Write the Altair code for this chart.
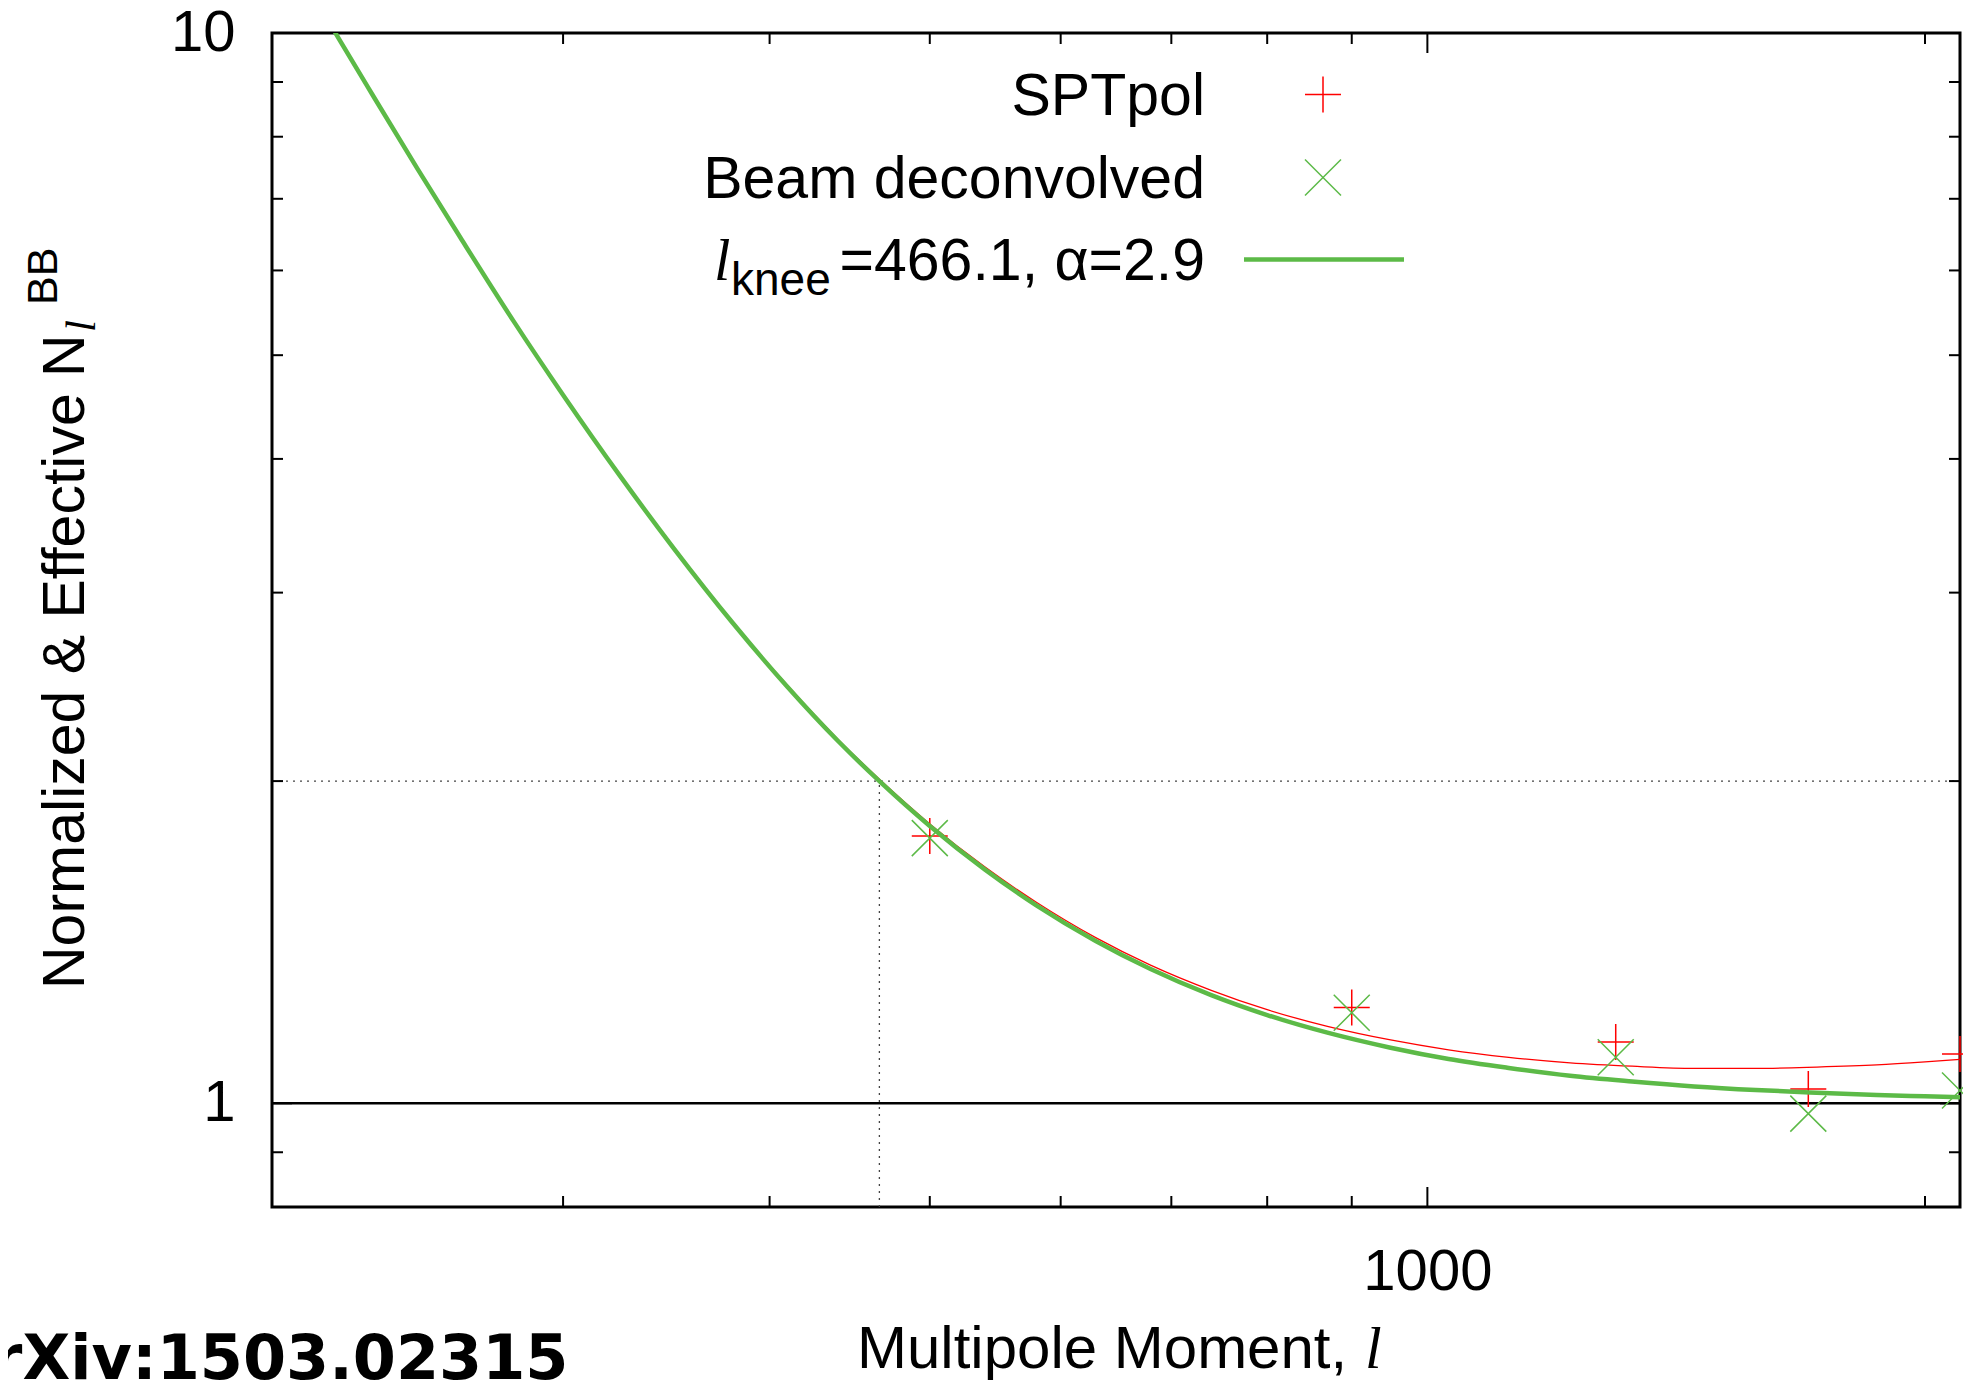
import altair as alt
import pandas as pd

# ---------------- data ----------------
curve_l = [200, 210, 220, 230, 245, 260, 280, 300, 325, 350, 380, 410, 440, 466.1,
           500, 540, 580, 630, 680, 740, 800, 870, 950, 1030, 1120, 1220, 1330,
           1450, 1580, 1720, 1870, 2000, 2100]
fit_deconv = [12.63, 11.10, 9.82, 8.76, 7.46, 6.44, 5.38, 4.59, 3.85, 3.30, 2.81, 2.45,
              2.18, 2.00, 1.816, 1.653, 1.531, 1.418, 1.335, 1.262, 1.209, 1.164, 1.127,
              1.100, 1.079, 1.061, 1.048, 1.037, 1.029, 1.023, 1.018, 1.015, 1.013]
fit_sptpol = [12.64, 11.11, 9.83, 8.77, 7.47, 6.45, 5.39, 4.60, 3.86, 3.31, 2.818, 2.458,
              2.188, 2.008, 1.824, 1.662, 1.541, 1.428, 1.346, 1.275, 1.223, 1.180, 1.146,
              1.122, 1.104, 1.091, 1.083, 1.078, 1.078, 1.081, 1.086, 1.093, 1.099]

bin_l = [500, 900, 1300, 1700, 2100]
sptpol_pts = [1.777, 1.229, 1.141, 1.031, 1.112]
deconv_pts = [1.769, 1.215, 1.104, 0.978, 1.028]

x_minor_ticks = [300, 400, 500, 600, 700, 800, 900, 2000]
x_major_ticks = [1000]
y_minor_ticks = [0.9, 2, 3, 4, 5, 6, 7, 8, 9]
y_major_ticks = [1, 10]
x_labels = [1000]
y_labels = [1, 10]

x_domain = [200, 2100]
y_domain = [0.8, 10]
knee_l = [466.1]
knee_n = [2.0]
unity = [1.0]

legend_labels = ["SPTpol", "Beam deconvolved", "=466.1, α=2.9"]
x_title = "Multipole Moment,"
y_title = "Normalized & Effective N"
watermark = "arXiv:1503.02315"

# ---------------- styling ----------------
W, H = 1688, 1174
GREEN = "#5cba47"
RED = "#ff0000"
SANS = "Liberation Sans"
SERIF = "Liberation Serif"
PLUS = "M-1,0L1,0M0,-1L0,1"
CROSS = "M-1,-1L1,1M-1,1L1,-1"

xs = alt.Scale(type="log", domain=x_domain, nice=False, zero=False)
ys = alt.Scale(type="log", domain=y_domain, nice=False, zero=False)

curves = pd.DataFrame({"l": curve_l, "deconv": fit_deconv, "spt": fit_sptpol})
pts = pd.DataFrame({"l": bin_l, "spt": sptpol_pts, "deconv": deconv_pts})

x_axis = alt.Axis(values=x_labels, format="d", title=None, ticks=False, tickSize=0,
                  domain=False, grid=False, labelFontSize=58, labelFont=SANS,
                  labelColor="black", labelPadding=36, labelFlush=False,
                  labelOverlap=False)
y_axis = alt.Axis(values=y_labels, format="d", title=None, ticks=False, tickSize=0,
                  domain=False, grid=False, labelFontSize=58, labelFont=SANS,
                  labelColor="black", labelPadding=37, labelFlush=False,
                  labelOverlap=False)


def X(field):
    return alt.X(field, scale=xs, axis=x_axis)


def Y(field):
    return alt.Y(field, scale=ys, axis=y_axis)


red_line = alt.Chart(curves).mark_line(color=RED, strokeWidth=1.3, clip=True,
                                       interpolate="monotone").encode(
    x=X("l:Q"), y=Y("spt:Q"))
green_line = alt.Chart(curves).mark_line(color=GREEN, strokeWidth=4.5, clip=True,
                                         interpolate="monotone").encode(
    x=X("l:Q"), y=Y("deconv:Q"))
red_pts = alt.Chart(pts).mark_point(shape=PLUS, size=1296, color=RED, strokeWidth=1.5,
                                    filled=False, opacity=1).encode(
    x=X("l:Q"), y=Y("spt:Q"))
green_pts = alt.Chart(pts).mark_point(shape=CROSS, size=1296, color=GREEN, strokeWidth=1.5,
                                      filled=False, opacity=1).encode(
    x=X("l:Q"), y=Y("deconv:Q"))

# reference lines
unity_line = alt.Chart(pd.DataFrame({"v": unity})).mark_rule(
    color="black", strokeWidth=2.5).encode(
    y=Y("v:Q"), x=alt.value(0), x2=alt.value(W))
two_line = alt.Chart(pd.DataFrame({"v": knee_n})).mark_rule(
    color="#444444", strokeWidth=1.3, strokeDash=[2, 5]).encode(
    y=Y("v:Q"), x=alt.value(0), x2=alt.value(W))
knee_line = alt.Chart(pd.DataFrame({"l": knee_l, "lo": [y_domain[0]], "hi": knee_n})).mark_rule(
    color="#444444", strokeWidth=1.3, strokeDash=[2, 5]).encode(
    x=X("l:Q"), y=Y("lo:Q"), y2="hi:Q")


# inward tick marks (gnuplot style) on all four sides
def xticks(vals, length):
    d = pd.DataFrame({"v": vals})
    bottom = alt.Chart(d).mark_rule(color="black", strokeWidth=2).encode(
        x=X("v:Q"), y=alt.value(H), y2=alt.value(H - length))
    top = alt.Chart(d).mark_rule(color="black", strokeWidth=2).encode(
        x=X("v:Q"), y=alt.value(0), y2=alt.value(length))
    return [bottom, top]


def yticks(vals, length):
    d = pd.DataFrame({"v": vals})
    left = alt.Chart(d).mark_rule(color="black", strokeWidth=2).encode(
        y=Y("v:Q"), x=alt.value(0), x2=alt.value(length))
    right = alt.Chart(d).mark_rule(color="black", strokeWidth=2).encode(
        y=Y("v:Q"), x=alt.value(W), x2=alt.value(W - length))
    return [left, right]


tick_layers = (xticks(x_minor_ticks, 11) + xticks(x_major_ticks, 20)
               + yticks(y_minor_ticks, 11) + yticks(y_major_ticks, 20))


def txt(s, x, y, size, font=SANS, align="left", angle=0, style="normal", weight="normal"):
    return alt.Chart(pd.DataFrame({"t": [s]})).mark_text(
        align=align, baseline="alphabetic", fontSize=size, font=font, angle=angle,
        fontStyle=style, fontWeight=weight, color="black").encode(
        text="t:N", x=alt.value(x), y=alt.value(y))


# legend (gnuplot style: text on the left, sample on the right)
legend = [
    txt(legend_labels[0], 933, 82, 59, align="right"),
    txt(legend_labels[1], 933, 165, 59, align="right"),
    txt(legend_labels[2], 933, 247, 59, align="right"),
    txt("l", 442, 247, 59, font=SERIF, style="italic"),
    txt("knee", 459, 262, 46),
    alt.Chart(pd.DataFrame({"s": [legend_labels[0]]})).mark_point(
        shape=PLUS, size=1296, color=RED, strokeWidth=1.5, filled=False, opacity=1).encode(
        x=alt.value(1051), y=alt.value(61.5)),
    alt.Chart(pd.DataFrame({"s": [legend_labels[1]]})).mark_point(
        shape=CROSS, size=1296, color=GREEN, strokeWidth=1.5, filled=False, opacity=1).encode(
        x=alt.value(1051), y=alt.value(144.5)),
    alt.Chart(pd.DataFrame({"s": [legend_labels[2]]})).mark_rule(
        color=GREEN, strokeWidth=4.5).encode(
        x=alt.value(972), x2=alt.value(1132), y=alt.value(226.5)),
]

# axis titles with sub/superscripts
titles = [
    txt(x_title, 585, 1335, 60),
    txt("l", 1093, 1335, 60, font=SERIF, style="italic"),
    txt(y_title, -188, 956, 59, angle=270),
    txt("l", -177, 299, 43, font=SERIF, style="italic", angle=270),
    txt("BB", -215, 272, 43, angle=270),
    txt(watermark, -322, 1346, 62, font="DejaVu Sans", weight="bold"),
]

chart = alt.layer(
    red_line, two_line, knee_line, unity_line, *tick_layers,
    red_pts, green_pts, green_line, *legend, *titles,
).properties(
    width=W, height=H,
    padding={"left": 264, "top": 25, "right": 3, "bottom": 174},
    autosize=alt.AutoSizeParams(type="none"),
    background="white",
).configure_view(
    stroke="black", strokeWidth=3,
)

chart.save("out.html", embed_options={"renderer": "svg", "actions": False})
